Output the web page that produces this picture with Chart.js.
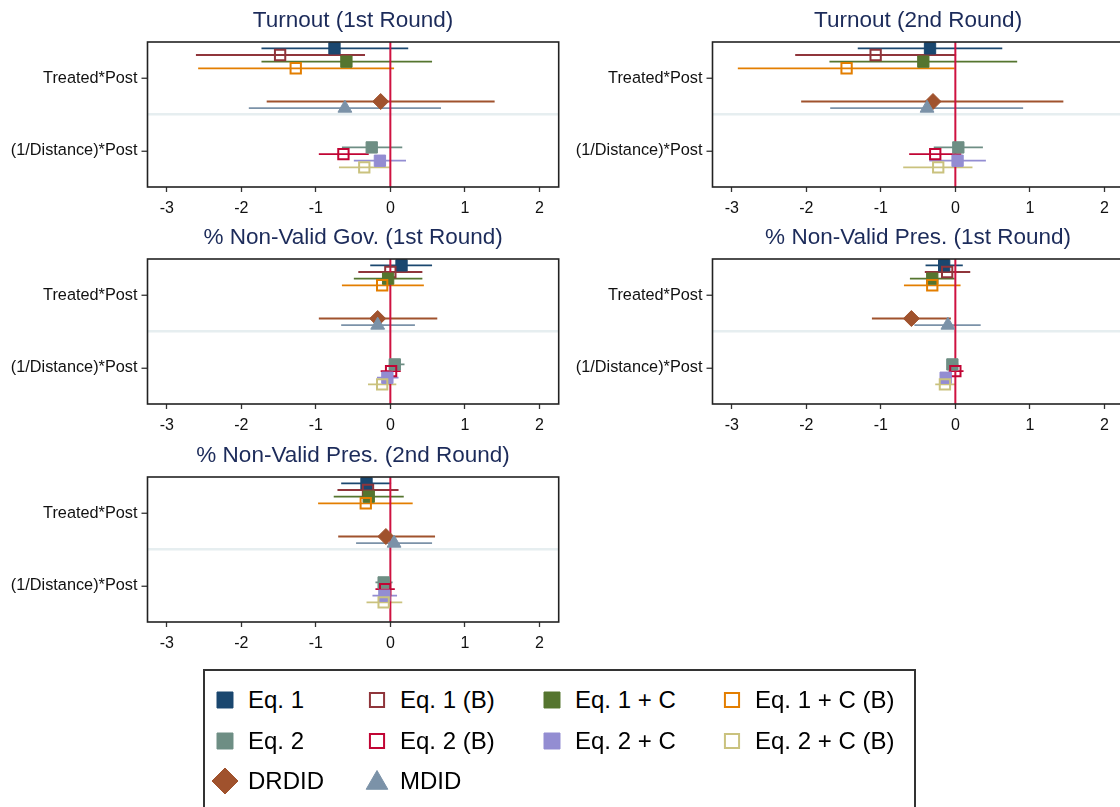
<!DOCTYPE html>
<html>
<head>
<meta charset="utf-8">
<script src="https://cdn.jsdelivr.net/npm/chart.js@4.4.1/dist/chart.umd.min.js"></script>
<style>
  html, body { margin: 0; padding: 0; background: #fff; }
  body { width: 1120px; height: 807px; position: relative; overflow: hidden;
         font-family: 'Liberation Sans', Arial, sans-serif; }
  canvas.panel { position: absolute; }
  #legend { position: absolute; left: 203px; top: 669px; width: 713px; height: 160px;
            border: 2px solid #333; box-sizing: border-box; background: #fff; }
  #legendGrid { margin: 8.75px 0 0 5px; display: grid;
                grid-template-columns: 152px 175px 180px 190px; grid-auto-rows: 40.5px; }
  .item { display: flex; align-items: center; font-size: 24px; color: #000; line-height: 1; white-space: nowrap; }
  .item canvas { margin-right: 8px; }
</style>
</head>
<body>
<canvas id="p1" class="panel" width="568" height="220" style="left:0px;top:0px"></canvas>
<canvas id="p2" class="panel" width="568" height="220" style="left:565px;top:0px"></canvas>
<canvas id="p3" class="panel" width="568" height="220" style="left:0px;top:217px"></canvas>
<canvas id="p4" class="panel" width="568" height="220" style="left:565px;top:217px"></canvas>
<canvas id="p5" class="panel" width="568" height="220" style="left:0px;top:435px"></canvas>
<div id="legend"><div id="legendGrid"></div></div>

<script>
// ---- data ----
const termLabels = ['Treated*Post', '(1/Distance)*Post'];
const xTicks = [-3, -2, -1, 0, 1, 2];

const seriesNames = ['Eq. 1', 'Eq. 1 (B)', 'Eq. 1 + C', 'Eq. 1 + C (B)',
                     'Eq. 2', 'Eq. 2 (B)', 'Eq. 2 + C', 'Eq. 2 + C (B)', 'DRDID', 'MDID'];
// which term each series estimates (index into termLabels)
const seriesTerm = [0, 0, 0, 0, 1, 1, 1, 1, 0, 0];

const panelTitles = ['Turnout (1st Round)', 'Turnout (2nd Round)', '% Non-Valid Gov. (1st Round)',
                     '% Non-Valid Pres. (1st Round)', '% Non-Valid Pres. (2nd Round)'];

const turnout1Coef = [-0.75, -1.48, -0.59, -1.27, -0.25, -0.63, -0.14, -0.35, -0.13, -0.61];
const turnout1Lo   = [-1.73, -2.61, -1.73, -2.58, -0.65, -0.96, -0.49, -0.69, -1.66, -1.90];
const turnout1Hi   = [ 0.24, -0.34,  0.56,  0.05,  0.16, -0.29,  0.21, -0.01,  1.40,  0.68];

const turnout2Coef = [-0.34, -1.07, -0.43, -1.46,  0.04, -0.27,  0.03, -0.23, -0.30, -0.38];
const turnout2Lo   = [-1.31, -2.15, -1.69, -2.92, -0.29, -0.62, -0.35, -0.70, -2.07, -1.68];
const turnout2Hi   = [ 0.63,  0.01,  0.83, -0.01,  0.37,  0.08,  0.41,  0.23,  1.45,  0.91];

const gov1Coef = [ 0.15,  0.00, -0.03, -0.11,  0.06,  0.01, -0.04, -0.11, -0.17, -0.17];
const gov1Lo   = [-0.27, -0.43, -0.49, -0.65, -0.02, -0.13, -0.18, -0.30, -0.96, -0.66];
const gov1Hi   = [ 0.56,  0.43,  0.43,  0.45,  0.19,  0.14,  0.11,  0.08,  0.63,  0.33];

const pres1Coef = [-0.15, -0.11, -0.31, -0.31, -0.04,  0.00, -0.13, -0.14, -0.59, -0.10];
const pres1Lo   = [-0.40, -0.41, -0.61, -0.69, -0.11, -0.09, -0.20, -0.27, -1.12, -0.55];
const pres1Hi   = [ 0.10,  0.20, -0.01,  0.07,  0.04,  0.11, -0.05,  0.00, -0.06,  0.34];

const pres2Coef = [-0.32, -0.30, -0.29, -0.33, -0.09, -0.07, -0.08, -0.09, -0.06,  0.05];
const pres2Lo   = [-0.66, -0.71, -0.76, -0.97, -0.20, -0.20, -0.24, -0.32, -0.70, -0.46];
const pres2Hi   = [ 0.01,  0.11,  0.18,  0.30,  0.03,  0.06,  0.09,  0.16,  0.60,  0.56];

// ---- styles ----
const seriesColors = ['#1a476f', '#90353b', '#55752f', '#e37e00', '#6e8e84',
                      '#c10534', '#938dd2', '#cac27e', '#a0522d', '#7b92a8'];
const seriesSymbols = ['rect', 'rect', 'rect', 'rect', 'rect', 'rect', 'rect', 'rect', 'rectRot', 'triangle'];
const seriesHollow = [false, true, false, true, false, true, false, true, false, false];

const FONT = "'Liberation Sans', Arial, sans-serif";
const titleColor = '#1c2b5a';
const zeroColor = '#cf1240';
const sepColor = '#e6eef0';
const slotStep = 0.0917; // vertical offset between series within a term

const coefPanel = {
  id: 'coefPanel',
  beforeDatasetsDraw(chart) {
    const { ctx, chartArea, scales: { x, y } } = chart;
    ctx.save();
    ctx.beginPath();
    ctx.rect(chartArea.left, chartArea.top, chartArea.width, chartArea.height);
    ctx.clip();
    ctx.lineWidth = 1.8;
    chart.data.datasets.forEach(ds => {
      ds.data.forEach(p => {
        const py = y.getPixelForValue(p.y);
        ctx.beginPath();
        ctx.moveTo(x.getPixelForValue(p.lo), py);
        ctx.lineTo(x.getPixelForValue(p.hi), py);
        ctx.strokeStyle = ds.borderColor;
        ctx.stroke();
      });
    });
    const x0 = x.getPixelForValue(0);
    ctx.beginPath();
    ctx.moveTo(x0, chartArea.top);
    ctx.lineTo(x0, chartArea.bottom);
    ctx.strokeStyle = zeroColor;
    ctx.lineWidth = 2;
    ctx.stroke();
    ctx.restore();
  },
  afterDraw(chart, args, opts) {
    const { ctx, chartArea } = chart;
    ctx.save();
    ctx.strokeStyle = '#222';
    ctx.lineWidth = 1.6;
    ctx.strokeRect(chartArea.left, chartArea.top, chartArea.width, chartArea.height);
    ctx.fillStyle = titleColor;
    ctx.font = '22.5px ' + FONT;
    ctx.textAlign = 'center';
    ctx.textBaseline = 'middle';
    ctx.fillText(opts.title, (chartArea.left + chartArea.right) / 2, 21);
    ctx.restore();
  }
};

function makePanel(id, title, coef, lo, hi) {
  const datasets = seriesNames.map((name, k) => ({
    label: name,
    data: [{ x: coef[k], y: seriesTerm[k] + (k - 4.5) * slotStep, lo: lo[k], hi: hi[k] }],
    pointStyle: seriesSymbols[k],
    pointRadius: seriesSymbols[k] === 'rect' ? (seriesHollow[k] ? 7.3 : 8) : 8,
    pointBorderWidth: seriesHollow[k] ? 2 : 1,
    borderColor: seriesColors[k],
    backgroundColor: seriesHollow[k] ? 'rgba(0,0,0,0)' : seriesColors[k],
    order: 10 - k
  }));

  return new Chart(document.getElementById(id), {
    type: 'scatter',
    data: { datasets },
    plugins: [coefPanel],
    options: {
      responsive: false,
      animation: false,
      events: [],
      layout: { padding: { top: 42, right: 4, bottom: 0, left: 0 } },
      plugins: {
        legend: { display: false },
        tooltip: { enabled: false },
        coefPanel: { title }
      },
      scales: {
        x: {
          type: 'linear',
          min: -3.26,
          max: 2.26,
          afterBuildTicks: s => { s.ticks = xTicks.map(v => ({ value: v })); },
          afterFit: s => { s.height = 33; s.paddingLeft = 0; s.paddingRight = 0; },
          border: { display: false },
          grid: { drawOnChartArea: false, drawTicks: true, tickLength: 5, tickColor: '#333', tickWidth: 1.3 },
          ticks: { font: { family: FONT, size: 16 }, color: '#111', padding: 7, maxRotation: 0 }
        },
        y: {
          type: 'linear',
          reverse: true,
          min: -0.5,
          max: 1.5,
          afterBuildTicks: s => { s.ticks = [{ value: 0 }, { value: 0.5 }, { value: 1 }]; },
          afterFit: s => { s.width = 147.5; s.paddingTop = 0; s.paddingBottom = 0; },
          border: { display: false },
          grid: {
            drawOnChartArea: true,
            lineWidth: 2.5,
            color: c => (c.tick && c.tick.value === 0.5) ? sepColor : 'rgba(0,0,0,0)',
            tickColor: c => (c.tick && c.tick.value === 0.5) ? 'rgba(0,0,0,0)' : '#333',
            tickLength: 6,
            tickWidth: 1.3
          },
          ticks: {
            font: { family: FONT, size: 16.3 },
            color: '#111',
            padding: 4,
            callback: v => termLabels[v] !== undefined ? termLabels[v] : ''
          }
        }
      }
    }
  });
}

makePanel('p1', panelTitles[0], turnout1Coef, turnout1Lo, turnout1Hi);
makePanel('p2', panelTitles[1], turnout2Coef, turnout2Lo, turnout2Hi);
makePanel('p3', panelTitles[2], gov1Coef, gov1Lo, gov1Hi);
makePanel('p4', panelTitles[3], pres1Coef, pres1Lo, pres1Hi);
makePanel('p5', panelTitles[4], pres2Coef, pres2Lo, pres2Hi);

// ---- legend ----
const grid = document.getElementById('legendGrid');
seriesNames.forEach((name, k) => {
  const item = document.createElement('div');
  item.className = 'item';
  const c = document.createElement('canvas');
  c.width = 30; c.height = 30;
  const ctx = c.getContext('2d');
  const sym = seriesSymbols[k];
  const radius = sym === 'rect' ? (seriesHollow[k] ? 10 : 11.3) : (sym === 'rectRot' ? 13 : 12.5);
  ctx.fillStyle = seriesHollow[k] ? 'rgba(0,0,0,0)' : seriesColors[k];
  ctx.strokeStyle = seriesColors[k];
  ctx.lineWidth = seriesHollow[k] ? 2 : 1;
  Chart.helpers.drawPoint(ctx, { pointStyle: sym, radius, rotation: 0, borderWidth: ctx.lineWidth }, 15, sym === 'triangle' ? 17 : 15);
  const span = document.createElement('span');
  span.textContent = name;
  item.appendChild(c);
  item.appendChild(span);
  grid.appendChild(item);
});
</script>
</body>
</html>
